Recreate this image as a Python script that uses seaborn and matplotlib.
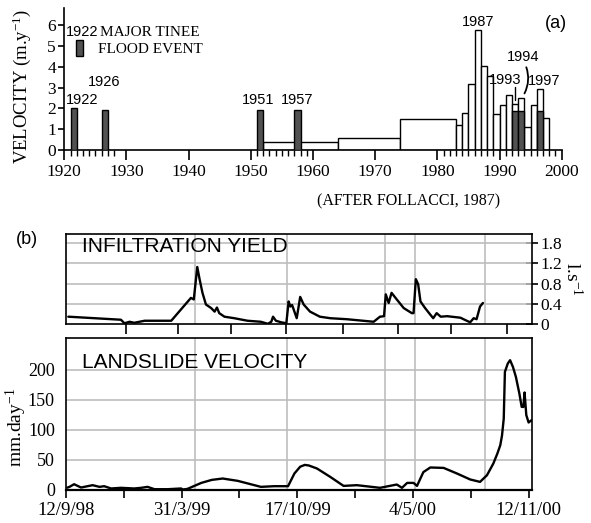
import numpy as np
import pandas as pd
import matplotlib
matplotlib.use("Agg")
import matplotlib.pyplot as plt
import seaborn as sns
from matplotlib.patches import Rectangle

sns.set_theme(style="white")
plt.rcParams['font.family'] = ['Liberation Serif', 'DejaVu Serif']
plt.rcParams['mathtext.default'] = 'regular'
for key in ['text.color', 'axes.labelcolor', 'xtick.color', 'ytick.color']:
    plt.rcParams[key] = 'black'

SANS = ['Liberation Sans Narrow', 'Liberation Sans', 'DejaVu Sans']

# ---------------- (a) historical landslide velocity ----------------
period_start = [1952, 1964, 1974, 1983, 1984, 1985, 1986, 1987, 1988, 1989,
                1990, 1991, 1992, 1993, 1994, 1995, 1996, 1997]
period_end = [1964, 1974, 1983, 1984, 1985, 1986, 1987, 1988, 1989, 1990,
              1991, 1992, 1993, 1994, 1995, 1996, 1997, 1998]
period_velocity = [0.4, 0.58, 1.5, 1.2, 1.8, 3.15, 5.75, 4.05, 3.55, 1.75,
                   2.15, 2.65, 2.2, 2.5, 1.1, 2.15, 2.95, 1.55]

flood_start = [1921, 1926, 1951, 1957, 1992, 1993, 1996]
flood_end = [1922, 1927, 1952, 1958, 1993, 1994, 1997]
flood_velocity = [2.0, 1.93, 1.93, 1.93, 1.88, 1.88, 1.88]
flood_labels = ['1922', '1926', '1951', '1957', '1993', '1994', '1997']

year_ticks = [1920, 1930, 1940, 1950, 1960, 1970, 1980, 1990, 2000]
velocity_ticks = [0, 1, 2, 3, 4, 5, 6]

# ---------------- (b) monitoring series (days since 12/9/98) ----------------
infil_day = [4, 95, 101, 110, 118, 136, 182, 216, 221, 227, 231, 236, 242, 251,
             257, 261, 265, 274, 291, 314, 337, 349, 355, 358, 363, 372, 381,
             385, 388, 391, 395, 399, 405, 411, 422, 439, 457, 486, 532, 543,
             550, 553, 558, 563, 572, 584, 598, 601, 605, 609, 613, 621, 630,
             635, 641, 648, 659, 682, 693, 699, 705, 710, 716, 721]
infil_yield = [0.15, 0.09, 0.02, 0.05, 0.03, 0.07, 0.07, 0.52, 0.49, 1.13, 0.89,
               0.62, 0.39, 0.32, 0.25, 0.33, 0.22, 0.15, 0.12, 0.07, 0.05, 0.01,
               0.05, 0.15, 0.07, 0.04, 0.02, 0.45, 0.35, 0.38, 0.25, 0.12, 0.54,
               0.39, 0.25, 0.15, 0.12, 0.10, 0.05, 0.15, 0.16, 0.59, 0.42, 0.62,
               0.49, 0.32, 0.22, 0.22, 0.89, 0.79, 0.45, 0.32, 0.19, 0.12, 0.22,
               0.15, 0.16, 0.13, 0.07, 0.04, 0.12, 0.10, 0.35, 0.42]

slide_day = [2, 6, 14, 26, 46, 58, 66, 78, 95, 118, 130, 141, 153, 176, 199,
             202, 210, 234, 252, 271, 297, 337, 360, 384, 395, 405, 413, 420,
             434, 457, 480, 503, 543, 572, 581, 590, 601, 607, 618, 630, 653,
             676, 699, 716, 728, 739, 746, 751, 754, 757, 759, 764, 768, 773,
             778, 784, 788, 791, 793, 796, 800, 805]
slide_velocity = [3, 4.4, 8.8, 3.3, 7.2, 4.4, 5.5, 1.7, 2.8, 1.7, 2.8, 4.4, 0.5,
                  0.5, 1.7, 0.0, 1.0, 11, 16, 18.3, 14.4, 4.4, 5.5, 5.5, 26.7,
                  38, 41, 40, 35, 21, 6, 7.2, 2.8, 8.3, 2.8, 11, 11, 6, 29, 36.7,
                  36, 26.7, 16.7, 12.7, 23.8, 43.3, 60, 73.8, 90, 118, 196, 210,
                  215.5, 204, 187.7, 160, 137.7, 137.7, 161.7, 124, 111.7, 115.5]

event_days = [223, 383, 551, 604, 724]
infil_tick_days = [104, 194, 285, 380, 479, 574, 666, 763]
infil_tick_vals = [0, 0.4, 0.8, 1.2, 1.6]
infil_tick_labels = ['0', '0.4', '0.8', '1.2', '1.8']
date_tick_days = [0, 100, 200, 300, 400, 500, 600, 700, 800]
date_labels = ['12/9/98', '', '31/3/99', '', '17/10/99', '', '4/5/00', '', '12/11/00']
slide_ticks = [0, 50, 100, 150, 200]

W, H = 591, 523
fig = plt.figure(figsize=(W / 100, H / 100), dpi=100)
fig.patch.set_facecolor('white')


def box(l, t, r, b):
    return [l / W, 1 - b / H, (r - l) / W, (b - t) / H]


# ---------------- panel (a) ----------------
ax_a = fig.add_axes(box(64.3, 8, 561.7, 150))
ax_a.set_facecolor('white')
widths = np.subtract(period_end, period_start)
ax_a.bar(period_start, period_velocity, width=widths, align='edge',
         color='white', edgecolor='black', linewidth=1.0, zorder=2)
fwidths = np.subtract(flood_end, flood_start)
ax_a.bar(flood_start, flood_velocity, width=fwidths, align='edge',
         color='#525252', edgecolor='black', linewidth=1.0, zorder=3)

ax_a.set_xlim(1920, 2000)
ax_a.set_ylim(0, 6.82)
for s in ['top', 'right']:
    ax_a.spines[s].set_visible(False)
for s in ['left', 'bottom']:
    ax_a.spines[s].set_color('black')
    ax_a.spines[s].set_linewidth(1.2)
ax_a.set_xticks(year_ticks)
ax_a.set_xticks(list(range(1921, 1929)) + list(range(1951, 1960)) +
                list(range(1981, 2000)), minor=True)
ax_a.set_yticks(velocity_ticks)
ax_a.tick_params(axis='x', which='major', direction='out', length=7, width=1.2,
                 labelsize=12.5, color='black', bottom=True, pad=3)
ax_a.tick_params(axis='x', which='minor', direction='out', length=4, width=1.0,
                 color='black', bottom=True)
ax_a.tick_params(axis='y', direction='out', length=4, width=1.2, labelsize=12.5,
                 color='black', left=True, pad=2)
ax_a.set_ylabel('VELOCITY (m.y$^{-1}$)', fontsize=13.5)
ax_a.yaxis.set_label_coords(-0.063, 0.45)

# bar annotations
label_pos = {'1922': (1922.8, 2.4), '1926': (1926.4, 3.28), '1951': (1951.2, 2.4),
             '1957': (1957.5, 2.4), '1993': (1990.9, 3.36), '1994': (1993.85, 4.48),
             '1997': (1997.1, 3.31)}
for lab in flood_labels:
    x, y = label_pos[lab]
    ax_a.text(x, y, lab, ha='center', va='center', fontsize=10.5, family=SANS)
peak_i = int(np.argmax(period_velocity))
ax_a.text(period_end[peak_i] - 0.5, period_velocity[peak_i] + 0.42,
          str(period_end[peak_i]), ha='center', va='center', fontsize=10.5,
          family=SANS)
ax_a.plot([1992.5, 1992.5], [3.02, 2.42], color='black', lw=1.0)
ax_a.annotate('', xy=(1993.8, 2.6), xytext=(1994.15, 4.1),
              arrowprops=dict(arrowstyle='-', lw=1.3, color='black',
                              connectionstyle='arc3,rad=-0.25'))
ax_a.text(1999, 6.08, '(a)', ha='center', va='center', fontsize=13, family=SANS)

# legend
ax_a.add_patch(Rectangle((1921.9, 4.5), 1.1, 0.8, facecolor='#525252',
                         edgecolor='black', lw=1.0, zorder=3))
ax_a.text(1922.8, 5.68, '1922', ha='center', va='center', fontsize=10.5, family=SANS)
ax_a.text(1925.8, 5.65, 'MAJOR TINEE', ha='left', va='center', fontsize=11)
ax_a.text(1925.35, 4.83, 'FLOOD EVENT', ha='left', va='center', fontsize=11)

fig.text(409 / W, 1 - 201.7 / H, '(AFTER FOLLACCI, 1987)', ha='center',
         va='center', fontsize=11.5)
fig.text(27 / W, 1 - 240 / H, '(b)', ha='center', va='center', fontsize=13,
         family=SANS)

# ---------------- panel (b) top: infiltration yield ----------------
GRID = '#bdbdbd'
ax_i = fig.add_axes(box(66, 234, 531.5, 324.3))
ax_i.set_facecolor('white')
infil = pd.DataFrame({'day': infil_day, 'yield': infil_yield})
sns.lineplot(data=infil, x='day', y='yield', ax=ax_i, color='black', lw=1.7,
             estimator=None, sort=False, zorder=3)
ax_i.set_xlim(0, 805)
ax_i.set_ylim(0, 1.78)
for v in infil_tick_vals[1:]:
    ax_i.axhline(v, color=GRID, lw=1.2, zorder=1)
for d in event_days:
    ax_i.axvline(d, color=GRID, lw=1.2, zorder=1)
ax_i.yaxis.tick_right()
ax_i.yaxis.set_label_position('right')
ax_i.set_yticks(infil_tick_vals)
ax_i.set_yticklabels(infil_tick_labels)
ax_i.set_xticks(infil_tick_days)
ax_i.set_xticklabels([])
ax_i.tick_params(axis='x', direction='out', length=7, width=1.2, color='black',
                 bottom=True)
ax_i.tick_params(axis='y', direction='inout', length=9, width=1.2, color='black',
                 right=True, left=False, labelsize=12.5, pad=2)
ax_i.set_xlabel('')
ax_i.set_ylabel('l.s$^{-1}$', rotation=270, fontsize=14)
ax_i.yaxis.set_label_coords(1.11, 0.5)
for s in ax_i.spines.values():
    s.set_color('black')
    s.set_linewidth(1.2)
ax_i.text(0.035, 0.86, 'INFILTRATION YIELD', transform=ax_i.transAxes,
          ha='left', va='center', fontsize=15, family=['Liberation Sans'])

# ---------------- panel (b) bottom: landslide velocity ----------------
ax_v = fig.add_axes(box(66, 338.3, 531.5, 489.5))
ax_v.set_facecolor('white')
slide = pd.DataFrame({'day': slide_day, 'velocity': slide_velocity})
sns.lineplot(data=slide, x='day', y='velocity', ax=ax_v, color='black', lw=1.7,
             estimator=None, sort=False, zorder=3)
ax_v.set_xlim(0, 805)
ax_v.set_ylim(0, 252)
for v in slide_ticks[1:]:
    ax_v.axhline(v, color=GRID, lw=1.2, zorder=1)
for d in event_days:
    ax_v.axvline(d, color=GRID, lw=1.2, zorder=1)
ax_v.set_yticks(slide_ticks)
ax_v.set_xticks(date_tick_days)
ax_v.set_xticklabels(date_labels)
ax_v.tick_params(axis='x', direction='out', length=6, width=1.2, color='black',
                 bottom=True, labelsize=13.5, pad=3)
ax_v.tick_params(axis='y', left=False, labelsize=13, pad=2)
ax_v.set_xlabel('')
ax_v.set_ylabel('mm.day$^{-1}$', fontsize=14)
ax_v.yaxis.set_label_coords(-0.08, 0.41)
for s in ax_v.spines.values():
    s.set_color('black')
    s.set_linewidth(1.2)
ax_v.spines['bottom'].set_linewidth(1.6)
ax_v.text(0.035, 0.84, 'LANDSLIDE VELOCITY', transform=ax_v.transAxes,
          ha='left', va='center', fontsize=15, family=['Liberation Sans'])

fig.savefig('out.png', dpi=100, facecolor='white')
